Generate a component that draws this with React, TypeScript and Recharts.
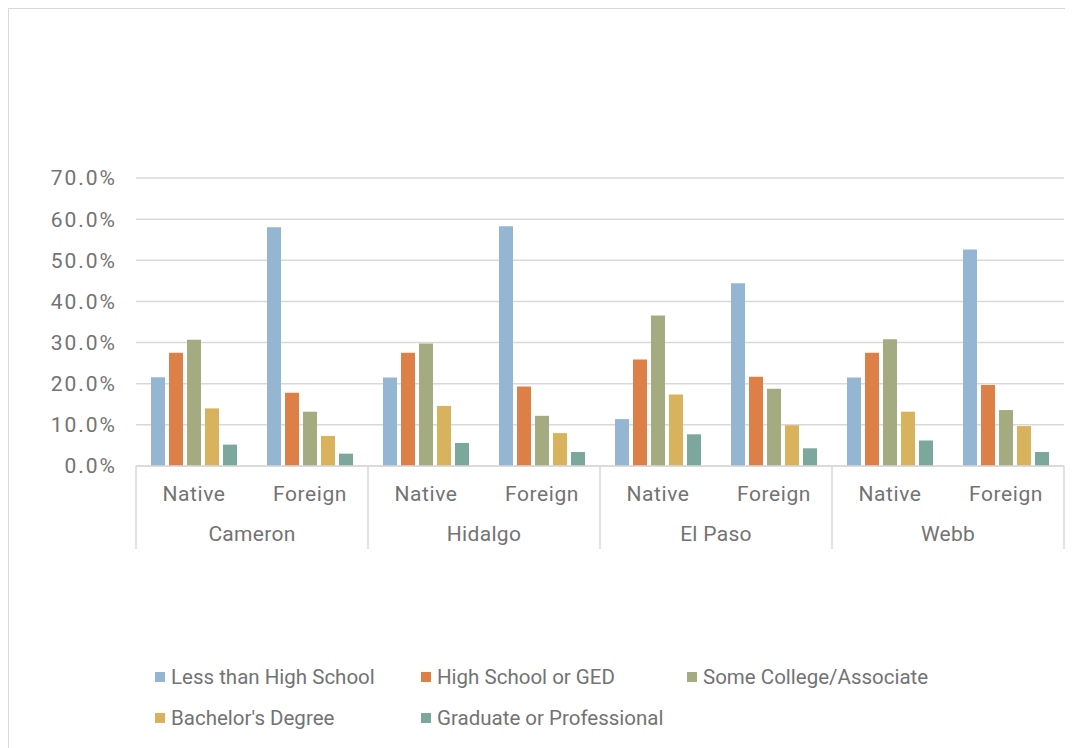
import { Bar, BarChart, CartesianGrid, XAxis, YAxis } from 'recharts'

// Educational attainment by nativity, four border counties
const counties = ['Cameron', 'Hidalgo', 'El Paso', 'Webb']
const nativity = ['Native', 'Foreign']

const lessThanHighSchool = [21.6, 58.0, 21.5, 58.3, 11.4, 44.4, 21.5, 52.6]
const highSchoolOrGed = [27.5, 17.8, 27.5, 19.3, 25.9, 21.7, 27.5, 19.7]
const someCollege = [30.7, 13.2, 29.8, 12.2, 36.6, 18.8, 30.8, 13.6]
const bachelors = [14.0, 7.3, 14.6, 8.0, 17.4, 9.9, 13.2, 9.7]
const graduate = [5.2, 3.0, 5.6, 3.4, 7.7, 4.3, 6.2, 3.4]

const yTicks = [0, 0.1, 0.2, 0.3, 0.4, 0.5, 0.6, 0.7]

const series = [
	{ key: 'lessHs', label: 'Less than High School', values: lessThanHighSchool, color: '#94b6d2' },
	{ key: 'hsGed', label: 'High School or GED', values: highSchoolOrGed, color: '#dd8047' },
	{ key: 'someCollege', label: 'Some College/Associate', values: someCollege, color: '#a5ab81' },
	{ key: 'bachelors', label: "Bachelor's Degree", values: bachelors, color: '#d8b25c' },
	{ key: 'graduate', label: 'Graduate or Professional', values: graduate, color: '#7ba79d' },
]

const data = counties.flatMap((county, ci) =>
	nativity.map((status, ni) => {
		const i = ci * nativity.length + ni
		const row: Record<string, string | number> = { county, status }
		series.forEach((s) => {
			row[s.key] = s.values[i] / 100
		})
		return row
	}),
)

const FONT = "Roboto, 'Liberation Sans', sans-serif"
const TEXT = '#737373'
const LINE = '#d9d9d9'

const CHART_W = 1064
const CHART_H = 740
const MARGIN = { top: 169, right: 9, bottom: 0, left: 0 }
const Y_AXIS_W = 127
const PLOT_W = CHART_W - MARGIN.left - MARGIN.right - Y_AXIS_W
const BAND = PLOT_W / data.length

function StatusTick(props: any) {
	const { x, y, index, payload } = props
	const last = index === data.length - 1
	return (
		<g>
			{index % 2 === 0 && (
				<line x1={x - BAND / 2} x2={x - BAND / 2} y1={y} y2={y + 83} stroke={LINE} strokeWidth={1.5} />
			)}
			{last && (
				<line x1={x + BAND / 2} x2={x + BAND / 2} y1={y} y2={y + 83} stroke={LINE} strokeWidth={1.5} />
			)}
			<text
				x={x}
				y={y + 35}
				textAnchor="middle"
				fill={TEXT}
				fontSize={21}
				fontFamily={FONT}
				letterSpacing={0.6}
			>
				{payload.value}
			</text>
		</g>
	)
}

function CountyTick(props: any) {
	const { x, y, payload } = props
	return (
		<text x={x} y={y + 35} textAnchor="middle" fill={TEXT} fontSize={21} fontFamily={FONT} letterSpacing={0.3}>
			{payload.value}
		</text>
	)
}

function LegendBlock() {
	return (
		<div
			style={{
				position: 'absolute',
				left: 146,
				top: 647,
				width: 820,
				display: 'flex',
				flexWrap: 'wrap',
				fontFamily: FONT,
				fontSize: 20.5,
				color: TEXT,
			}}
		>
			{series.map((s) => (
				<div key={s.key} style={{ width: 266, height: 41, display: 'flex', alignItems: 'center' }}>
					<span style={{ width: 10, height: 10, background: s.color, marginRight: 6, display: 'inline-block' }} />
					<span>{s.label}</span>
				</div>
			))}
		</div>
	)
}

export default function App() {
	return (
		<div
			style={{
				position: 'relative',
				width: CHART_W,
				height: CHART_H,
				border: `1px solid ${LINE}`,
				borderBottom: 'none',
				boxSizing: 'border-box',
				background: '#fff',
			}}
		>
			<style>{'body{overflow:hidden}'}</style>
			<div style={{ position: 'absolute', left: 0, top: 0 }}>
				<BarChart width={CHART_W} height={CHART_H} data={data} margin={MARGIN} barSize={14} barGap={4}>
					<CartesianGrid vertical={false} stroke={LINE} strokeWidth={1.5} />
					<YAxis
						width={Y_AXIS_W}
						domain={[0, 0.7]}
						ticks={yTicks}
						axisLine={false}
						tickLine={false}
						tickSize={0}
						tickMargin={19}
						tickFormatter={(v: number) => `${(v * 100).toFixed(1)}%`}
						tick={{ fill: TEXT, fontSize: 21, fontFamily: FONT, letterSpacing: 2 }}
					/>
					<XAxis
						dataKey="status"
						height={40}
						axisLine={{ stroke: LINE, strokeWidth: 1.5 }}
						tickLine={false}
						tickSize={0}
						tickMargin={0}
						interval={0}
						tick={<StatusTick />}
					/>
					<XAxis
						xAxisId="county"
						dataKey="county"
						allowDuplicatedCategory={false}
						height={243}
						axisLine={false}
						tickLine={false}
						tickSize={0}
						tickMargin={0}
						interval={0}
						tick={<CountyTick />}
					/>
					{series.map((s) => (
						<Bar key={s.key} dataKey={s.key} name={s.label} fill={s.color} isAnimationActive={false} />
					))}
				</BarChart>
			</div>
			<LegendBlock />
		</div>
	)
}
